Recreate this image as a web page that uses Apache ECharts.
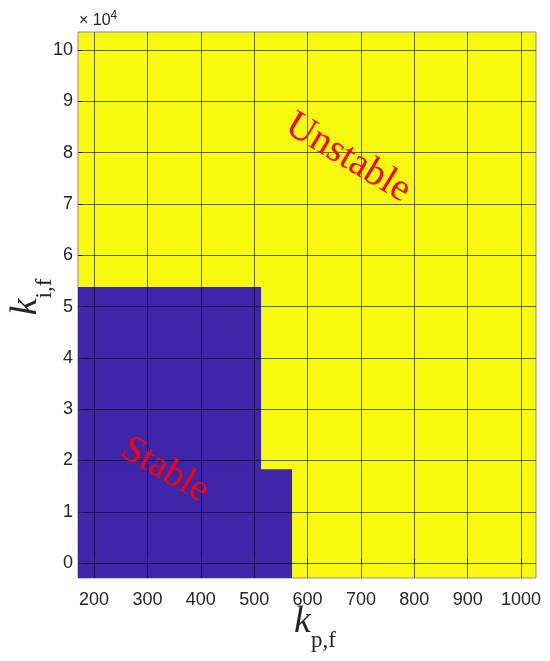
<!DOCTYPE html>
<html>
<head>
<meta charset="utf-8">
<script src="https://cdn.jsdelivr.net/npm/echarts@6/dist/echarts.min.js"></script>
<style>
  html, body { margin: 0; padding: 0; background: #fff; }
  #chart { width: 550px; height: 661px; }
</style>
</head>
<body>
<div id="chart"></div>
<script>
// axis ranges and ticks
const kpRange = [170, 1028];
const kiRange = [-2900, 103500];
const kpTicks = [200, 300, 400, 500, 600, 700, 800, 900, 1000];
const kiTicks = [0, 10000, 20000, 30000, 40000, 50000, 60000, 70000, 80000, 90000, 100000];

// stable region: for ki up to stableKiTop[i], kp up to stableKpMax[i]
const stableKpMax = [513, 571];
const stableKiTop = [53800, 18300];

const chart = echarts.init(document.getElementById('chart'));

const serif = "'Liberation Serif', 'DejaVu Serif', serif";
const sans = "'Liberation Sans', Arial, sans-serif";
const nameRich = {
  k: { fontFamily: serif, fontStyle: 'italic', fontSize: 38, lineHeight: 40, verticalAlign: 'top', color: '#262626' },
  s: { fontFamily: serif, fontSize: 23, lineHeight: 24, padding: [26, 0, 0, 0], verticalAlign: 'top', color: '#262626' }
};

const blocks = stableKpMax.map((x1, i) => [kpRange[0], x1, kiRange[0], stableKiTop[i]]);

const option = {
  animation: false,
  grid: {
    left: 78, right: 14, top: 32, bottom: 83,
    outerBoundsMode: 'none',
    containLabel: false,
    show: true,
    backgroundColor: '#f9fb0e',
    borderColor: '#8c8c8c',
    borderWidth: 1
  },
  xAxis: {
    type: 'value',
    min: kpRange[0],
    max: kpRange[1],
    z: 10,
    axisLine: { show: false },
    axisTick: { show: true, inside: true, length: 5, customValues: kpTicks, lineStyle: { color: '#262626' } },
    axisLabel: {
      customValues: kpTicks, color: '#262626', fontFamily: sans, fontSize: 18, margin: 13,
      formatter: v => String(v)
    },
    splitLine: { show: true, lineStyle: { color: 'rgba(0,0,0,0.6)', width: 1 } },
    name: '{k|k}{s|p,f}',
    nameLocation: 'middle',
    nameMoveOverlap: false,
    nameGap: 25,
    nameTextStyle: { rich: nameRich, padding: [0, 0, 0, 16] }
  },
  yAxis: {
    type: 'value',
    min: kiRange[0],
    max: kiRange[1],
    z: 10,
    axisLine: { show: false },
    axisTick: { show: true, inside: true, length: 5, customValues: kiTicks, lineStyle: { color: '#262626' } },
    axisLabel: {
      customValues: kiTicks,
      color: '#262626', fontFamily: sans, fontSize: 18, margin: 5,
      formatter: v => String(Math.round(v / 10000))
    },
    splitLine: { show: true, lineStyle: { color: 'rgba(0,0,0,0.6)', width: 1 } },
    name: '{k|k}{s|i,f}',
    nameLocation: 'middle',
    nameMoveOverlap: false,
    nameGap: 31,
    nameTextStyle: { rich: nameRich, padding: [0, 0, 0, 16] }
  },
  series: [
    {
      type: 'custom',
      z: 2,
      data: blocks,
      renderItem: (params, api) => {
        const p0 = api.coord([api.value(0), api.value(3)]);
        const p1 = api.coord([api.value(1), api.value(2)]);
        return {
          type: 'rect',
          shape: { x: p0[0], y: p0[1], width: p1[0] - p0[0], height: p1[1] - p0[1] },
          style: { fill: '#3e26a8' }
        };
      },
      encode: { x: [0, 1], y: [2, 3] }
    }
  ],
  graphic: [
    {
      type: 'text', left: 79, top: 10, z: 100,
      style: {
        text: '× 10{sup|4}',
        fill: '#262626',
        font: "16px 'Liberation Sans', Arial, sans-serif",
        rich: { sup: { fontSize: 12, fontFamily: sans, padding: [0, 0, 10, 0], fill: '#262626' } }
      }
    },
    {
      type: 'text', x: 348, y: 158, rotation: -31 * Math.PI / 180, z: 100,
      style: { text: 'Unstable', fill: '#ff0000', font: "39px 'Liberation Serif', serif", align: 'center', verticalAlign: 'middle' }
    },
    {
      type: 'text', x: 165, y: 470, rotation: -30 * Math.PI / 180, z: 100,
      style: { text: 'Stable', fill: '#ff0000', font: "38px 'Liberation Serif', serif", align: 'center', verticalAlign: 'middle' }
    }
  ]
};

chart.setOption(option);
</script>
</body>
</html>
